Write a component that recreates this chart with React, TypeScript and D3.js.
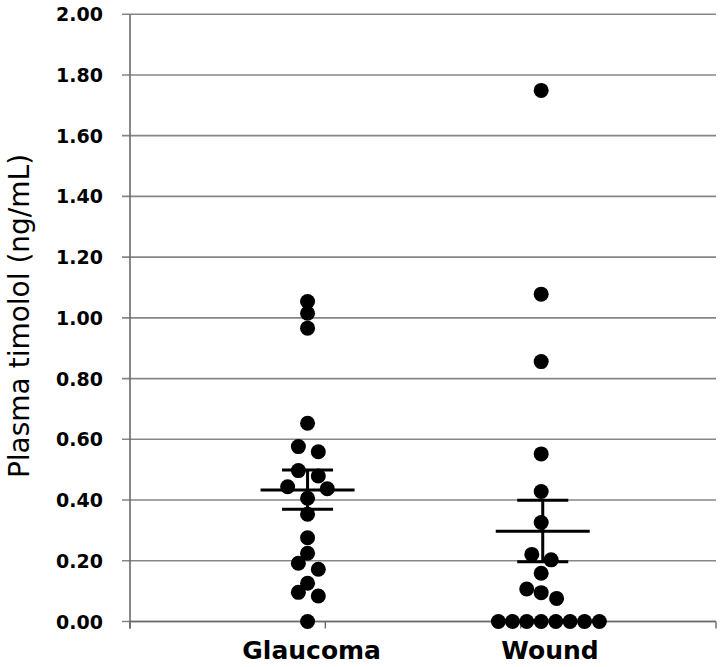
import React from "react";
import * as d3 from "d3";

// ---- Data ----
const categories = ["Glaucoma", "Wound"];
const categoryX = [0.93, 2.15]; // label positions on the x value axis

const yTicks = [0, 0.2, 0.4, 0.6, 0.8, 1.0, 1.2, 1.4, 1.6, 1.8, 2.0];
const xTicks = [0, 1, 2, 3];

// Glaucoma individual values (x position on value axis, plasma timolol ng/mL)
const glaucomaX = [0.909, 0.909, 0.909, 0.909, 0.862, 0.964, 0.862, 0.964, 0.807, 1.01, 0.909, 0.909, 0.909, 0.909, 0.862, 0.964, 0.909, 0.862, 0.964, 0.909];
const glaucomaY = [1.054, 1.015, 0.966, 0.653, 0.576, 0.559, 0.497, 0.479, 0.444, 0.437, 0.406, 0.353, 0.276, 0.225, 0.192, 0.172, 0.126, 0.096, 0.084, 0.0];

// Wound individual values
const woundX = [2.105, 2.105, 2.105, 2.105, 2.105, 2.105, 2.057, 2.156, 2.105, 2.031, 2.105, 2.184, 1.886, 1.958, 2.031, 2.105, 2.18, 2.253, 2.327, 2.403];
const woundY = [1.749, 1.078, 0.856, 0.552, 0.428, 0.326, 0.221, 0.203, 0.159, 0.107, 0.095, 0.076, 0, 0, 0, 0, 0, 0, 0, 0];

// Mean ± SEM
const groupCenterX = [0.909, 2.113];
const groupMean = [0.433, 0.297];
const groupSemLow = [0.37, 0.197];
const groupSemHigh = [0.499, 0.399];

const W = 720;
const H = 667;

export default function App() {
  const plotLeft = 130;
  const plotRight = 716;
  const plotTop = 14.2;
  const plotBottom = 621.5;

  const x = d3.scaleLinear().domain([0, 3]).range([plotLeft, plotRight]);
  const y = d3.scaleLinear().domain([0, 2]).range([plotBottom, plotTop]);

  const fmt = d3.format(".2f");
  const points = [
    ...glaucomaX.map((v, i) => ({ x: v, y: glaucomaY[i] })),
    ...woundX.map((v, i) => ({ x: v, y: woundY[i] })),
  ];

  const meanHalf = 47;
  const capHalf = 25.5;

  return (
    <svg
      width={W}
      height={H}
      style={{ position: "absolute", left: 0, top: 0, background: "#fff" }}
    >
      <rect x={0} y={0} width={W} height={H} fill="#fff" />
      {/* gridlines with tick extension */}
      {yTicks.map((t) => (
        <line
          key={"g" + t}
          x1={plotLeft - 8}
          x2={plotRight}
          y1={y(t)}
          y2={y(t)}
          stroke="#868686"
          strokeWidth={1.6}
        />
      ))}
      {/* y axis */}
      <line x1={plotLeft} x2={plotLeft} y1={plotTop} y2={plotBottom + 7} stroke="#6a6a6a" strokeWidth={1.6} />
      {/* x axis */}
      <line x1={plotLeft} x2={plotRight} y1={plotBottom} y2={plotBottom} stroke="#6a6a6a" strokeWidth={1.6} />
      {xTicks.map((t) => (
        <line
          key={"xt" + t}
          x1={x(t)}
          x2={x(t)}
          y1={plotBottom}
          y2={plotBottom + 7}
          stroke="#6a6a6a"
          strokeWidth={1.4}
        />
      ))}
      {/* y tick labels */}
      {yTicks.map((t) => (
        <text
          key={"yl" + t}
          x={103}
          y={y(t)}
          textAnchor="end"
          dominantBaseline="central"
          fontFamily="DejaVu Sans"
          fontWeight="bold"
          fontSize={19}
          fill="#000"
        >
          {fmt(t)}
        </text>
      ))}
      {/* y axis title */}
      <text
        transform={`translate(19,${316}) rotate(-90)`}
        textAnchor="middle"
        dominantBaseline="central"
        fontFamily="DejaVu Sans"
        fontSize={28}
        fill="#000"
      >
        Plasma timolol (ng/mL)
      </text>
      {/* category labels */}
      {categories.map((c, i) => (
        <text
          key={c}
          x={x(categoryX[i])}
          y={659}
          textAnchor="middle"
          fontFamily="DejaVu Sans"
          fontWeight="bold"
          fontSize={25}
          fill="#000"
        >
          {c}
        </text>
      ))}
      {/* dots */}
      {points.map((p, i) => (
        <circle key={"p" + i} cx={x(p.x)} cy={y(p.y)} r={7.5} fill="#000" />
      ))}
      {/* mean ± SEM */}
      {groupCenterX.map((gx, i) => {
        const cx = x(gx);
        return (
          <g key={"m" + i} stroke="#000" strokeWidth={3}>
            <line x1={cx} x2={cx} y1={y(groupSemHigh[i])} y2={y(groupSemLow[i])} />
            <line x1={cx - capHalf} x2={cx + capHalf} y1={y(groupSemHigh[i])} y2={y(groupSemHigh[i])} />
            <line x1={cx - capHalf} x2={cx + capHalf} y1={y(groupSemLow[i])} y2={y(groupSemLow[i])} />
            <line x1={cx - meanHalf} x2={cx + meanHalf} y1={y(groupMean[i])} y2={y(groupMean[i])} />
          </g>
        );
      })}
    </svg>
  );
}
